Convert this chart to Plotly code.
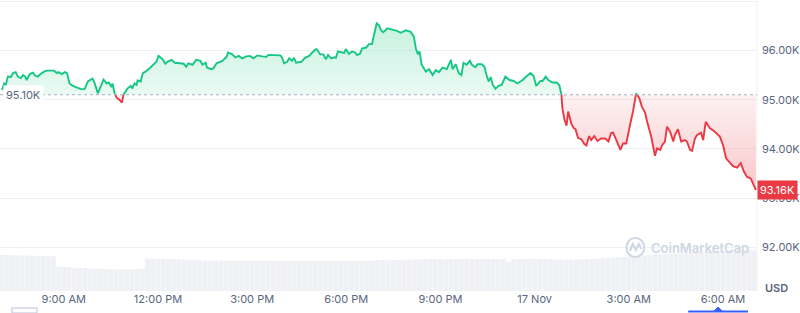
import numpy as np
import pandas as pd
import plotly.graph_objects as go

# ---------------- data ----------------
START = pd.Timestamp("2024-11-16 06:58")
BASE_PRICE = 95.10  # thousands USD (24h open)

minutes = [
    4, 8, 11, 15, 21, 25, 30, 34, 40, 44, 48, 51, 57, 63, 67, 72, 80, 86, 91, 99,
    103, 109, 112, 118, 124, 128, 133, 139, 147, 156, 162, 168, 177, 181, 187, 194, 198, 204, 208, 213,
    215, 219, 223, 229, 233, 236, 242, 244, 250, 253, 257, 261, 263, 269, 273, 278, 286, 294, 299, 303,
    311, 316, 320, 328, 334, 343, 351, 356, 360,
    368, 375, 383, 387, 393, 396, 404, 408, 414, 419, 425, 433, 436, 444, 450, 456, 463, 471, 478, 484,
    492, 501, 509, 513, 524, 536, 539, 543, 549, 553, 558, 562, 566, 576, 583, 591, 597, 604, 606, 612,
    618, 623, 627, 633, 639, 642, 646, 654, 658, 661, 667, 673, 679, 682, 688, 692, 700, 705, 711, 715,
    719, 720,
    724, 728, 732, 736, 740, 749, 759, 766, 776, 785, 791, 795, 799, 802, 806, 814, 820, 827, 833, 839,
    846, 854, 862, 865, 871, 877, 882, 886, 892, 898, 902, 909, 913, 921, 926, 930, 934, 938, 942, 947,
    953, 959, 966, 974, 982, 989, 999, 1006, 1014, 1020, 1025, 1033, 1037, 1043, 1048, 1056, 1064, 1069, 1073,
    1075, 1079, 1083, 1086, 1092, 1096, 1100, 1105, 1111, 1117, 1121, 1126, 1130, 1136, 1142, 1149, 1157, 1163,
    1168, 1172, 1178, 1186, 1191, 1197, 1205, 1210, 1216, 1222, 1227, 1233, 1237, 1245, 1252, 1256, 1262, 1266,
    1271, 1275, 1281, 1287, 1290, 1296, 1302, 1309, 1313, 1319, 1323, 1328, 1332, 1340, 1344, 1349, 1357, 1363,
    1369, 1376, 1382, 1388, 1395, 1401, 1409, 1416, 1422, 1428, 1435, 1439, 1445,
]

prices = [
    95.20, 95.33, 95.30, 95.47, 95.46, 95.54, 95.56, 95.47, 95.44, 95.50,
    95.47, 95.40, 95.52, 95.55, 95.49, 95.47, 95.54, 95.58, 95.59, 95.60,
    95.59, 95.54, 95.56, 95.52, 95.56, 95.54, 95.33, 95.28, 95.24, 95.21,
    95.22, 95.37, 95.43, 95.33, 95.13, 95.30, 95.41, 95.33, 95.35, 95.26,
    95.33, 95.13, 95.04, 94.99, 94.94, 95.10, 95.20, 95.23, 95.28, 95.23,
    95.33, 95.30, 95.39, 95.37, 95.54, 95.57, 95.64, 95.73, 95.77, 95.89,
    95.82, 95.73, 95.77, 95.81, 95.75, 95.74, 95.73, 95.67, 95.74,
    95.71, 95.81, 95.79, 95.71, 95.75, 95.65, 95.62, 95.64, 95.74, 95.76,
    95.79, 95.87, 95.96, 95.92, 95.86, 95.89, 95.84, 95.88, 95.89, 95.84,
    95.90, 95.88, 95.87, 95.91, 95.91, 95.90, 95.86, 95.74, 95.77, 95.84,
    95.79, 95.85, 95.75, 95.77, 95.85, 95.89, 95.96, 96.03, 96.02, 95.92,
    95.92, 95.82, 95.91, 95.84, 95.86, 95.85, 95.98, 95.96, 95.95, 96.03,
    95.93, 95.98, 95.96, 95.91, 95.93, 96.04, 96.06, 96.13, 96.13, 96.32, 96.48, 96.55,
    96.52, 96.42, 96.37, 96.40, 96.45, 96.43, 96.40, 96.36, 96.41, 96.38,
    96.28, 96.04, 95.92, 95.98, 95.71, 95.57, 95.62, 95.50, 95.60, 95.56,
    95.65, 95.62, 95.81, 95.62, 95.72, 95.54, 95.50, 95.75, 95.71, 95.79,
    95.71, 95.66, 95.72, 95.72, 95.67, 95.50, 95.37, 95.46, 95.30, 95.22,
    95.28, 95.30, 95.47, 95.40, 95.38, 95.33, 95.40, 95.47, 95.54, 95.48,
    95.28, 95.38, 95.38, 95.47, 95.40, 95.35, 95.35, 95.30, 95.13,
    94.83, 94.59, 94.47, 94.76, 94.52, 94.43, 94.40, 94.22, 94.20, 94.10,
    94.07, 94.26, 94.18, 94.26, 94.16, 94.21, 94.21, 94.15, 94.32, 94.33,
    94.18, 93.98, 94.11, 94.11, 94.52, 94.76, 95.13, 95.03, 94.86, 94.74,
    94.55, 94.24, 93.86, 94.01, 93.98, 94.08, 94.15, 94.45, 94.35, 94.15,
    94.28, 94.40, 94.15, 94.18, 94.15, 93.98, 93.96, 94.20, 94.28, 94.33,
    94.18, 94.55, 94.42, 94.38, 94.32, 94.25, 94.08, 93.81, 93.72, 93.65,
    93.62, 93.71, 93.54, 93.43, 93.40, 93.30, 93.16,
]

# 24h volume (billions USD), one bar every 10 minutes from 07:00
volume = [
    62, 62, 61.5, 61.5, 61, 61, 60.5, 60.5, 60, 60, 59.5,
    42, 42, 41,
    40, 39.5, 39.5, 39, 38.5,
    38, 37.5, 37.5, 37, 37, 37.5, 37.5, 37.5, 38,
    56, 56, 55.5, 55.5, 55, 55, 54.5, 54,
    53, 53, 52.5, 52.5, 52.5, 52.5, 52.5, 52, 52, 52, 52, 52, 52, 52, 52, 52, 51.5, 51.5, 51.5, 51.5, 51.5, 51.5,
    51.5, 51.5, 51.5, 51.5, 51.5, 51.5, 51.5, 51.5, 51.5, 51.5, 51.5, 51.5, 52, 52.5, 53, 53, 53, 53, 53.5, 53.5, 54, 54, 54,
    55, 55, 55, 55, 54.5, 55, 55, 55, 55.5, 55, 55, 55, 55, 55, 55, 55, 50, 55, 55, 55, 55.5, 55, 55, 55, 55,
    54, 54, 54, 54, 54, 54.5, 55, 55, 55.5,
    56, 57, 57.5, 58, 58.5, 59, 60, 60.5, 61, 62,
    63, 63, 63.5, 64, 64, 64.5, 65, 65.5, 66,
    67, 67.5, 68, 68, 68.5, 69, 69, 69.5, 69.5, 70, 70,
]

x_tick_times = ["2024-11-16 09:00", "2024-11-16 12:00", "2024-11-16 15:00", "2024-11-16 18:00",
                "2024-11-16 21:00", "2024-11-17 00:00", "2024-11-17 03:00", "2024-11-17 06:00"]
x_tick_labels = ["9:00 AM", "12:00 PM", "3:00 PM", "6:00 PM", "9:00 PM", "17 Nov", "3:00 AM", "6:00 AM"]
y_tick_vals = [92, 93, 94, 95, 96, 97]
y_tick_labels = ["92.00K", "93.00K", "94.00K", "95.00K", "96.00K", ""]

# ---------------- derived ----------------
GREEN = "#16c784"
RED = "#ea3943"
GREY_TXT = "#58667e"
GRID = "#eff2f5"

t = np.array(minutes, dtype=float)
p = np.array(prices, dtype=float)

# insert baseline crossings so the two colours split exactly at the open price
tt, pp = [t[0]], [p[0]]
for i in range(1, len(t)):
    a, b = p[i - 1] - BASE_PRICE, p[i] - BASE_PRICE
    if a * b < 0:
        f = a / (a - b)
        tt.append(t[i - 1] + f * (t[i] - t[i - 1]))
        pp.append(BASE_PRICE)
    tt.append(t[i])
    pp.append(p[i])
tt = np.array(tt)
pp = np.array(pp)
xs = START + pd.to_timedelta(tt, unit="m")

upper = np.maximum(pp, BASE_PRICE)
lower = np.minimum(pp, BASE_PRICE)
green_line = [v if v >= BASE_PRICE else None for v in pp]
red_line = [v if v <= BASE_PRICE else None for v in pp]
base_arr = np.full(len(pp), BASE_PRICE)

vol_x = pd.Timestamp("2024-11-16 07:00") + pd.to_timedelta(np.arange(len(volume)) * 10, unit="m")

fig = go.Figure()

fig.add_trace(go.Bar(x=vol_x, y=volume, yaxis="y2", marker=dict(color="#f0f1f5", line=dict(width=0)),
                     width=9.4 * 60 * 1000, hoverinfo="skip", showlegend=False))

fig.add_trace(go.Scatter(x=xs, y=base_arr, mode="lines", line=dict(width=0), hoverinfo="skip", showlegend=False))
fig.add_trace(go.Scatter(x=xs, y=upper, mode="lines", line=dict(width=0), fill="tonexty",
                         fillgradient=dict(type="vertical",
                                           colorscale=[[0, "rgba(22,199,132,0.09)"], [1, "rgba(22,199,132,0.24)"]],
                                           start=BASE_PRICE, stop=float(p.max())),
                         hoverinfo="skip", showlegend=False))
fig.add_trace(go.Scatter(x=xs, y=base_arr, mode="lines", line=dict(width=0), hoverinfo="skip", showlegend=False))
fig.add_trace(go.Scatter(x=xs, y=lower, mode="lines", line=dict(width=0), fill="tonexty",
                         fillgradient=dict(type="vertical",
                                           colorscale=[[0, "rgba(234,57,67,0.28)"], [1, "rgba(234,57,67,0.07)"]],
                                           start=float(p.min()), stop=BASE_PRICE),
                         hoverinfo="skip", showlegend=False))

fig.add_trace(go.Scatter(x=xs, y=green_line, mode="lines", line=dict(color=GREEN, width=1.9),
                         connectgaps=False, showlegend=False))
fig.add_trace(go.Scatter(x=xs, y=red_line, mode="lines", line=dict(color=RED, width=1.9),
                         connectgaps=False, showlegend=False))

PLOT_W = 759
PLOT_H = 291


def px(xp):
    return xp / PLOT_W


def py(yp):
    return (PLOT_H - yp) / PLOT_H


shapes = [
    # dotted open-price line
    dict(type="line", xref="paper", x0=0, x1=1, yref="y", y0=BASE_PRICE, y1=BASE_PRICE,
         line=dict(color="#a6b0c3", width=1.2, dash="dot"), layer="above"),
    # right border
    dict(type="line", xref="paper", x0=1, x1=1, yref="paper", y0=0, y1=1,
         line=dict(color=GRID, width=1), layer="below"),
    # watermark logo
    dict(type="circle", xref="paper", yref="paper", x0=px(628), x1=px(646), y0=py(257), y1=py(238),
         line=dict(color="#cfd6e4", width=2)),
    dict(type="path", xref="paper", yref="paper",
         path=f"M {px(631.5)},{py(251)} L {px(634.5)},{py(244)} L {px(637.5)},{py(250)} "
              f"L {px(640.5)},{py(244)} L {px(643)},{py(249)}",
         line=dict(color="#cfd6e4", width=2)),
    # bottom widgets
    dict(type="rect", xref="paper", yref="paper", x0=px(12), x1=px(37), y0=py(313), y1=py(308),
         line=dict(color="#cfd6e4", width=1.5), fillcolor="white"),
    dict(type="line", xref="paper", yref="paper", x0=px(690), x1=px(750), y0=py(311.5), y1=py(311.5),
         line=dict(color="#3861fb", width=2)),
    dict(type="path", xref="paper", yref="paper",
         path=f"M {px(716)},{py(311)} L {px(720)},{py(307)} L {px(724)},{py(311)} Z",
         fillcolor="#3861fb", line=dict(color="#3861fb", width=1)),
]

annotations = [
    dict(xref="paper", x=0.004, yref="y", y=BASE_PRICE, text="95.10K", showarrow=False, xanchor="left",
         yanchor="middle", font=dict(family="Inter", size=11, color=GREY_TXT), bgcolor="white", borderpad=2),
    dict(xref="paper", x=1, yref="y", y=float(p[-1]), text=f"{p[-1]:.2f}K", showarrow=False, xanchor="left",
         yanchor="middle", font=dict(family="Inter", size=11, color="white"), bgcolor=RED, borderpad=2),
    dict(xref="paper", x=px(651), yref="paper", y=py(247.5), text="CoinMarketCap", showarrow=False,
         xanchor="left", yanchor="middle", font=dict(family="Inter", size=13, color="#cfd6e4", weight=600)),
    dict(xref="paper", x=px(779), yref="paper", y=py(288), text="USD", showarrow=False,
         xanchor="center", yanchor="middle", font=dict(family="Inter", size=11, color=GREY_TXT, weight=600)),
]

x0 = START
x1 = START + pd.Timedelta(minutes=1447)

fig.update_layout(
    width=800, height=313,
    margin=dict(l=0, r=41, t=0, b=22),
    paper_bgcolor="white", plot_bgcolor="white",
    showlegend=False, barmode="overlay",
    font=dict(family="Inter", size=11, color=GREY_TXT),
    xaxis=dict(range=[x0, x1], tickvals=pd.to_datetime(x_tick_times), ticktext=x_tick_labels,
               showgrid=False, zeroline=False, showline=False, ticks="",
               tickfont=dict(family="Inter", size=11, color=GREY_TXT), fixedrange=True),
    yaxis=dict(range=[91.112, 97.026], side="right", tickvals=y_tick_vals, ticktext=y_tick_labels,
               showgrid=True, gridcolor=GRID, gridwidth=1, zeroline=False, showline=False, ticks="",
               ticklabelstandoff=4,
               tickfont=dict(family="Inter", size=11, color=GREY_TXT)),
    yaxis2=dict(range=[0, 500], overlaying="y", visible=False),
    shapes=shapes,
    annotations=annotations,
)

fig.write_html("out.html")
